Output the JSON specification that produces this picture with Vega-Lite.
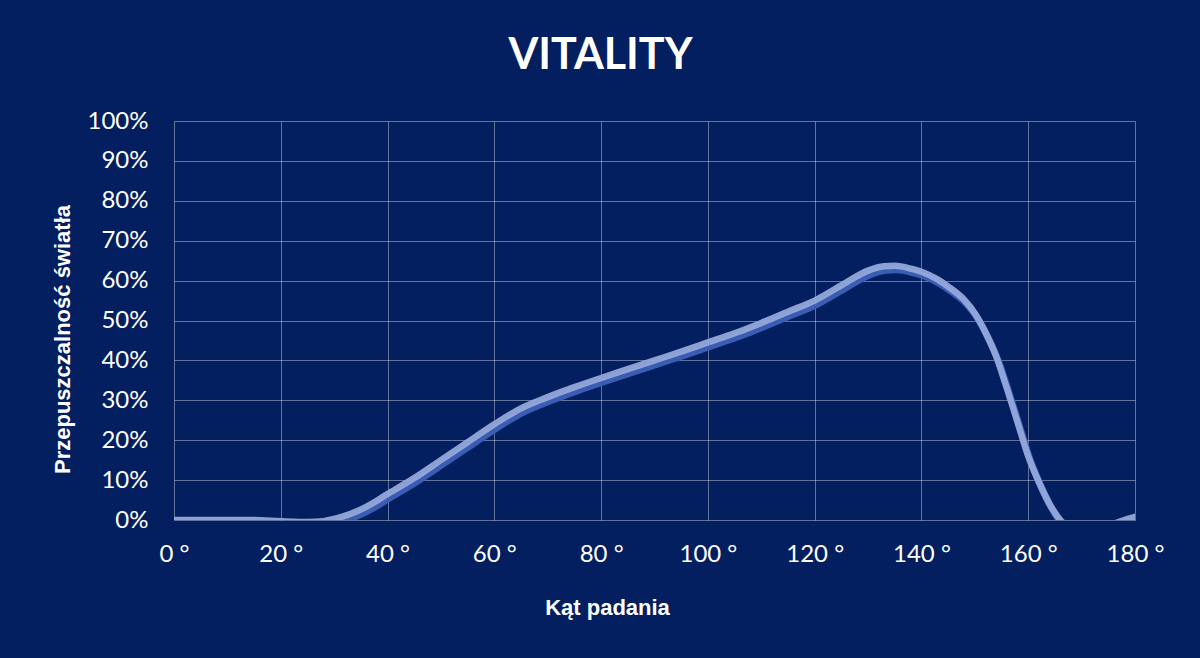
{
  "$schema": "https://vega.github.io/schema/vega-lite/v6.json",
  "width": 961,
  "height": 399,
  "autosize": {"type": "none"},
  "padding": {"left": 174, "top": 121, "right": 65, "bottom": 138},
  "background": "#031f5f",
  "title": {
    "text": "VITALITY",
    "font": "Lato",
    "fontSize": 43,
    "fontWeight": "bold",
    "color": "#ffffff",
    "anchor": "middle",
    "dx": -54,
    "offset": 31
  },
  "data": {
    "values": [
      {"deg": 0, "pct": 0}, {"deg": 5, "pct": 0}, {"deg": 10, "pct": 0}, {"deg": 15, "pct": 0},
      {"deg": 20, "pct": -0.3}, {"deg": 25, "pct": -0.5}, {"deg": 28, "pct": -0.3}, {"deg": 30, "pct": 0.3},
      {"deg": 33, "pct": 1.5}, {"deg": 36, "pct": 3.3}, {"deg": 40, "pct": 6.5}, {"deg": 45, "pct": 10.5},
      {"deg": 50, "pct": 15}, {"deg": 55, "pct": 19.5}, {"deg": 60, "pct": 24}, {"deg": 65, "pct": 28},
      {"deg": 70, "pct": 30.8}, {"deg": 75, "pct": 33.3}, {"deg": 80, "pct": 35.6}, {"deg": 85, "pct": 37.8},
      {"deg": 90, "pct": 40}, {"deg": 95, "pct": 42.2}, {"deg": 100, "pct": 44.5}, {"deg": 105, "pct": 46.8},
      {"deg": 110, "pct": 49.4}, {"deg": 115, "pct": 52.2}, {"deg": 120, "pct": 55}, {"deg": 125, "pct": 58.8},
      {"deg": 130, "pct": 62.5}, {"deg": 133, "pct": 63.6}, {"deg": 135, "pct": 63.7}, {"deg": 138, "pct": 63},
      {"deg": 140, "pct": 62.2}, {"deg": 143, "pct": 60.3}, {"deg": 145, "pct": 58.5}, {"deg": 148, "pct": 55.2},
      {"deg": 150, "pct": 51.8}, {"deg": 152, "pct": 47}, {"deg": 154, "pct": 41}, {"deg": 156, "pct": 33},
      {"deg": 158, "pct": 24.5}, {"deg": 160, "pct": 16}, {"deg": 162, "pct": 9.5}, {"deg": 164, "pct": 4},
      {"deg": 166, "pct": 0}, {"deg": 168, "pct": -2}, {"deg": 172, "pct": -3}, {"deg": 176, "pct": -1},
      {"deg": 178, "pct": 0}, {"deg": 180, "pct": 0.8}
    ]
  },
  "encoding": {
    "x": {
      "field": "deg",
      "type": "quantitative",
      "scale": {"domain": [0, 180], "nice": false},
      "axis": {
        "values": [0, 20, 40, 60, 80, 100, 120, 140, 160, 180],
        "labelExpr": "datum.value + ' °'",
        "title": "Kąt padania",
        "titleFont": "Liberation Sans",
        "titleFontSize": 22,
        "titleFontWeight": "bold",
        "titleColor": "#ffffff",
        "titleX": 433,
        "titleY": 87,
        "titleBaseline": "middle",
        "titleAnchor": "middle",
        "titleAlign": "center"
      }
    },
    "y": {
      "field": "pct",
      "type": "quantitative",
      "scale": {"domain": [0, 100], "nice": false, "zero": false},
      "axis": {
        "values": [0, 10, 20, 30, 40, 50, 60, 70, 80, 90, 100],
        "labelExpr": "datum.value + '%'",
        "title": "Przepuszczalność światła",
        "titleFont": "Liberation Sans",
        "titleFontSize": 22,
        "titleFontWeight": "bold",
        "titleColor": "#ffffff",
        "titleAngle": -90,
        "titleX": -112,
        "titleY": 218,
        "titleBaseline": "middle",
        "titleAlign": "center"
      }
    }
  },
  "layer": [
    {
      "mark": {"type": "line", "interpolate": "monotone", "clip": true, "color": "#3b5cb3", "strokeWidth": 7, "xOffset": 2, "yOffset": 4, "strokeCap": "round"}
    },
    {
      "mark": {"type": "line", "interpolate": "monotone", "clip": true, "color": "#93a8da", "strokeWidth": 6.5, "strokeCap": "round", "opacity": 0.95}
    }
  ],
  "config": {
    "view": {"stroke": null},
    "axis": {
      "domain": false,
      "ticks": false,
      "grid": true,
      "gridColor": "#ffffff",
      "gridOpacity": 0.38,
      "gridWidth": 1,
      "labelFont": "Lato",
      "labelFontSize": 24,
      "labelColor": "#ffffff"
    },
    "axisX": {"labelPadding": 22, "labelFlush": false},
    "axisY": {"labelPadding": 26}
  }
}
